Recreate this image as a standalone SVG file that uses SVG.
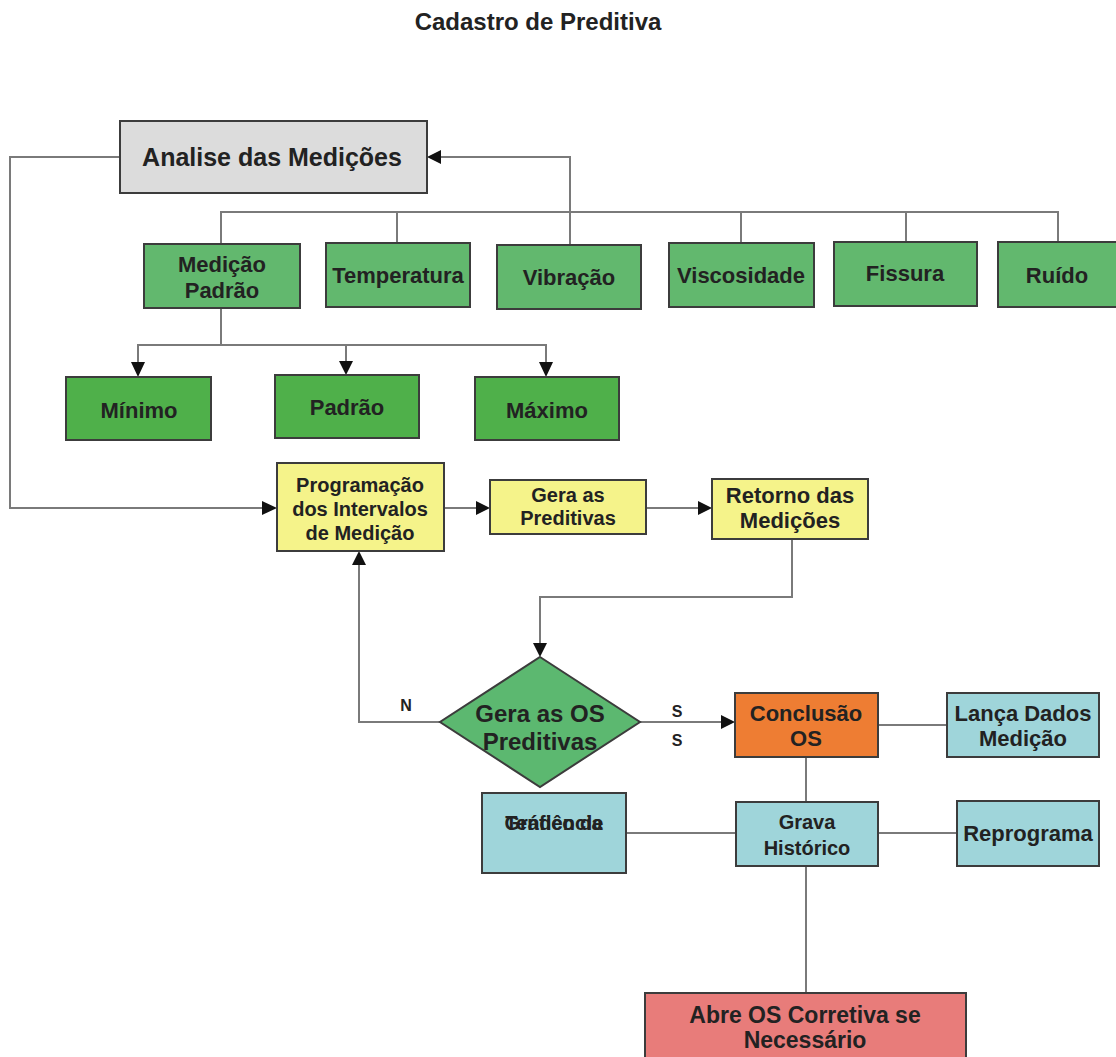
<svg xmlns="http://www.w3.org/2000/svg" width="1116" height="1057" viewBox="0 0 1116 1057">
  <style>
    text { font-family: "Liberation Sans", Arial, sans-serif; font-weight: bold; fill: #222; text-anchor: middle; }
    .box { stroke: #3c3c3c; stroke-width: 2; }
    .gray { fill: #dcdcdc; }
    .green { fill: #62b86e; }
    .dgreen { fill: #4fb04a; }
    .yellow { fill: #f5f38a; }
    .blue { fill: #9fd5da; }
    .orange { fill: #ee7d33; }
    .red { fill: #e87c7a; }
    .conn { fill: none; stroke: #7a7a7a; stroke-width: 2; }
    .head { fill: #111; }
    .t22 { font-size: 22px; }
    .t20 { font-size: 20px; }
  </style>
  <rect width="1116" height="1057" fill="#ffffff"/>

  <text x="538" y="30" style="font-size:24px">Cadastro de Preditiva</text>

  <g id="connectors">
    <!-- análise feeds the interval programming -->
    <path class="conn" d="M120,157 H10 V508 H262"/>
    <path class="head" d="M262,501 L277,508 L262,515 z"/>
    <!-- vibração back to análise -->
    <path class="conn" d="M570,245 V157 H441"/>
    <path class="head" d="M441,150 L427,157 L441,164 z"/>
    <!-- measurement bus -->
    <path class="conn" d="M221,244 V212 H1058 V242 M397,212 V243 M741,212 V243 M906,212 V242"/>
    <!-- medição padrão children -->
    <path class="conn" d="M221,308 V345 M138,362 V345 H546 V362 M346,345 V361"/>
    <path class="head" d="M131,362 L138,377 L145,362 z"/>
    <path class="head" d="M339,361 L346,375 L353,361 z"/>
    <path class="head" d="M539,362 L546,377 L553,362 z"/>
    <!-- programação chain -->
    <path class="conn" d="M444,508 H476"/>
    <path class="head" d="M476,501 L490,508 L476,515 z"/>
    <path class="conn" d="M646,508 H698"/>
    <path class="head" d="M698,501 L712,508 L698,515 z"/>
    <!-- retorno to decision -->
    <path class="conn" d="M792,539 V597 H540 V643"/>
    <path class="head" d="M533,643 L540,657 L547,643 z"/>
    <!-- N branch -->
    <path class="conn" d="M440,722 H359 V565"/>
    <path class="head" d="M352,565 L359,551 L366,565 z"/>
    <text x="406" y="711" style="font-size:16px">N</text>
    <!-- S branch -->
    <path class="conn" d="M640,722 H721"/>
    <path class="head" d="M721,715 L735,722 L721,729 z"/>
    <text x="677" y="717" style="font-size:16px">S</text>
    <text x="677" y="746" style="font-size:16px">S</text>
    <!-- conclusão links -->
    <path class="conn" d="M878,725 H947 M806,757 V802 M626,833 H736 M878,833 H957 M806,866 V993"/>
  </g>

  <g id="analise">
    <rect class="box gray" x="120" y="121" width="307" height="72"/>
    <text x="272" y="166" style="font-size:25px">Analise das Medições</text>
  </g>

  <g id="medicao-padrao">
    <rect class="box green" x="144" y="244" width="156" height="64"/>
    <text class="t22" x="222" y="272">Medição</text>
    <text class="t22" x="222" y="298">Padrão</text>
  </g>
  <g id="temperatura">
    <rect class="box green" x="326" y="243" width="144" height="64"/>
    <text class="t22" x="398" y="283">Temperatura</text>
  </g>
  <g id="vibracao">
    <rect class="box green" x="497" y="245" width="144" height="64"/>
    <text class="t22" x="569" y="285">Vibração</text>
  </g>
  <g id="viscosidade">
    <rect class="box green" x="669" y="243" width="145" height="64"/>
    <text class="t22" x="741" y="283">Viscosidade</text>
  </g>
  <g id="fissura">
    <rect class="box green" x="834" y="242" width="143" height="64"/>
    <text class="t22" x="905" y="281">Fissura</text>
  </g>
  <g id="ruido">
    <rect class="box green" x="998" y="242" width="125" height="65"/>
    <text class="t22" x="1057" y="283">Ruído</text>
  </g>

  <g id="minimo">
    <rect class="box dgreen" x="66" y="377" width="145" height="63"/>
    <text class="t22" x="139" y="418">Mínimo</text>
  </g>
  <g id="padrao">
    <rect class="box dgreen" x="275" y="375" width="144" height="63"/>
    <text class="t22" x="347" y="415">Padrão</text>
  </g>
  <g id="maximo">
    <rect class="box dgreen" x="475" y="377" width="144" height="63"/>
    <text class="t22" x="547" y="418">Máximo</text>
  </g>

  <g id="programacao">
    <rect class="box yellow" x="277" y="463" width="167" height="88"/>
    <text class="t20" x="360" y="492">Programação</text>
    <text class="t20" x="360" y="516">dos Intervalos</text>
    <text class="t20" x="360" y="540">de Medição</text>
  </g>
  <g id="gera-preditivas">
    <rect class="box yellow" x="490" y="480" width="156" height="54"/>
    <text class="t20" x="568" y="502">Gera as</text>
    <text class="t20" x="568" y="525">Preditivas</text>
  </g>
  <g id="retorno">
    <rect class="box yellow" x="712" y="479" width="156" height="60"/>
    <text class="t22" x="790" y="503">Retorno das</text>
    <text class="t22" x="790" y="528">Medições</text>
  </g>

  <g id="gera-os">
    <path class="box" d="M540,657 L640,722 L540,787 L440,722 z" fill="#5cb870" stroke-width="1.5"/>
    <text x="540" y="722" style="font-size:24px">Gera as OS</text>
    <text x="540" y="750" style="font-size:24px">Preditivas</text>
  </g>

  <g id="conclusao">
    <rect class="box orange" x="735" y="693" width="143" height="64"/>
    <text class="t22" x="806" y="721">Conclusão</text>
    <text class="t22" x="806" y="746">OS</text>
  </g>
  <g id="lanca-dados">
    <rect class="box blue" x="947" y="693" width="152" height="64"/>
    <text class="t22" x="1023" y="721">Lança Dados</text>
    <text class="t22" x="1023" y="746">Medição</text>
  </g>
  <g id="grafico">
    <rect class="box blue" x="482" y="793" width="144" height="80"/>
    <text class="t20" x="554" y="830">Gráfico de</text>
    <text class="t20" x="554" y="830">Tendência</text>
  </g>
  <g id="grava-historico">
    <rect class="box blue" x="736" y="802" width="142" height="64"/>
    <text class="t20" x="807" y="829">Grava</text>
    <text class="t20" x="807" y="855">Histórico</text>
  </g>
  <g id="reprograma">
    <rect class="box blue" x="957" y="801" width="142" height="65"/>
    <text class="t22" x="1028" y="841">Reprograma</text>
  </g>
  <g id="abre-os">
    <rect class="box red" x="645" y="993" width="321" height="70"/>
    <text x="805" y="1023" style="font-size:23px">Abre OS Corretiva se</text>
    <text x="805" y="1048" style="font-size:23px">Necessário</text>
  </g>
</svg>
